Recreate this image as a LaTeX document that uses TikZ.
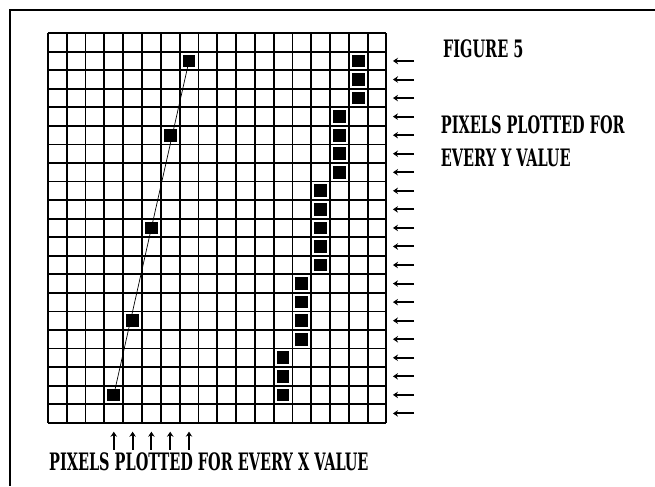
\documentclass[tikz,border=0pt]{standalone}
\usepackage{fontspec}
\newfontfamily\dosfont[FakeStretch=0.67]{DejaVu Serif Condensed}
\usetikzlibrary{arrows.meta}

\begin{document}
\begin{tikzpicture}[x=18.8pt,y=18.55pt,
  pix/.style={fill=black,minimum size=12.7pt,inner sep=0pt},
  lbl/.style={anchor=base west,inner sep=0pt,font=\dosfont\bfseries\fontsize{24}{24}\selectfont},
  tick/.style={line width=2pt,-{Stealth[length=5pt,width=6.5pt]}}]
  \useasboundingbox (-2.553,-3.412) rectangle (32.287,22.787);
  % frame
  \draw[line width=1.5pt] (32.287,22.25) -- (-2.021,22.25) -- (-2.021,-3.412);
  \draw[line width=1.8pt,step=1] (0,0) grid (18,21);
  % pixels for every x value
  \foreach \c/\r [count=\i] in {3/19,4/15,5/10,6/5,7/1}
    \node[pix] (x\i) at (\c+0.5,20.5-\r) {};
  \draw[line width=0.7pt] (x1.center) -- (x5.center);
  % pixels for every y value
  \foreach \c/\r [count=\i] in {16/1,16/2,16/3,15/4,15/5,15/6,15/7,14/8,14/9,14/10,14/11,14/12,
                                13/13,13/14,13/15,13/16,12/17,12/18,12/19}
    \node[pix] (y\i) at (\c+0.5,20.5-\r) {};
  \foreach \r in {1,...,20} {
    \coordinate (ya\r) at (19.47,20.5-\r);
    \coordinate (yb\r) at (18.35,20.5-\r);
    \draw[tick] (ya\r) -- (yb\r);
  }
  \foreach \c in {3,...,7} {
    \coordinate (xa\c) at (\c+0.5,-1.47);
    \coordinate (xb\c) at (\c+0.5,-0.485);
    \draw[tick] (xa\c) -- (xb\c);
  }
  \node[lbl] (fig) at (21.01,19.70) {FIGURE 5};
  \node[lbl] (ytxt) at (20.89,15.60) {PIXELS PLOTTED FOR};
  \node[lbl] (ytxt2) at (20.89,13.80) {EVERY Y VALUE};
  \node[lbl] (xtxt) at (0.05,-2.55) {PIXELS PLOTTED FOR EVERY X VALUE};
\end{tikzpicture}
\end{document}
